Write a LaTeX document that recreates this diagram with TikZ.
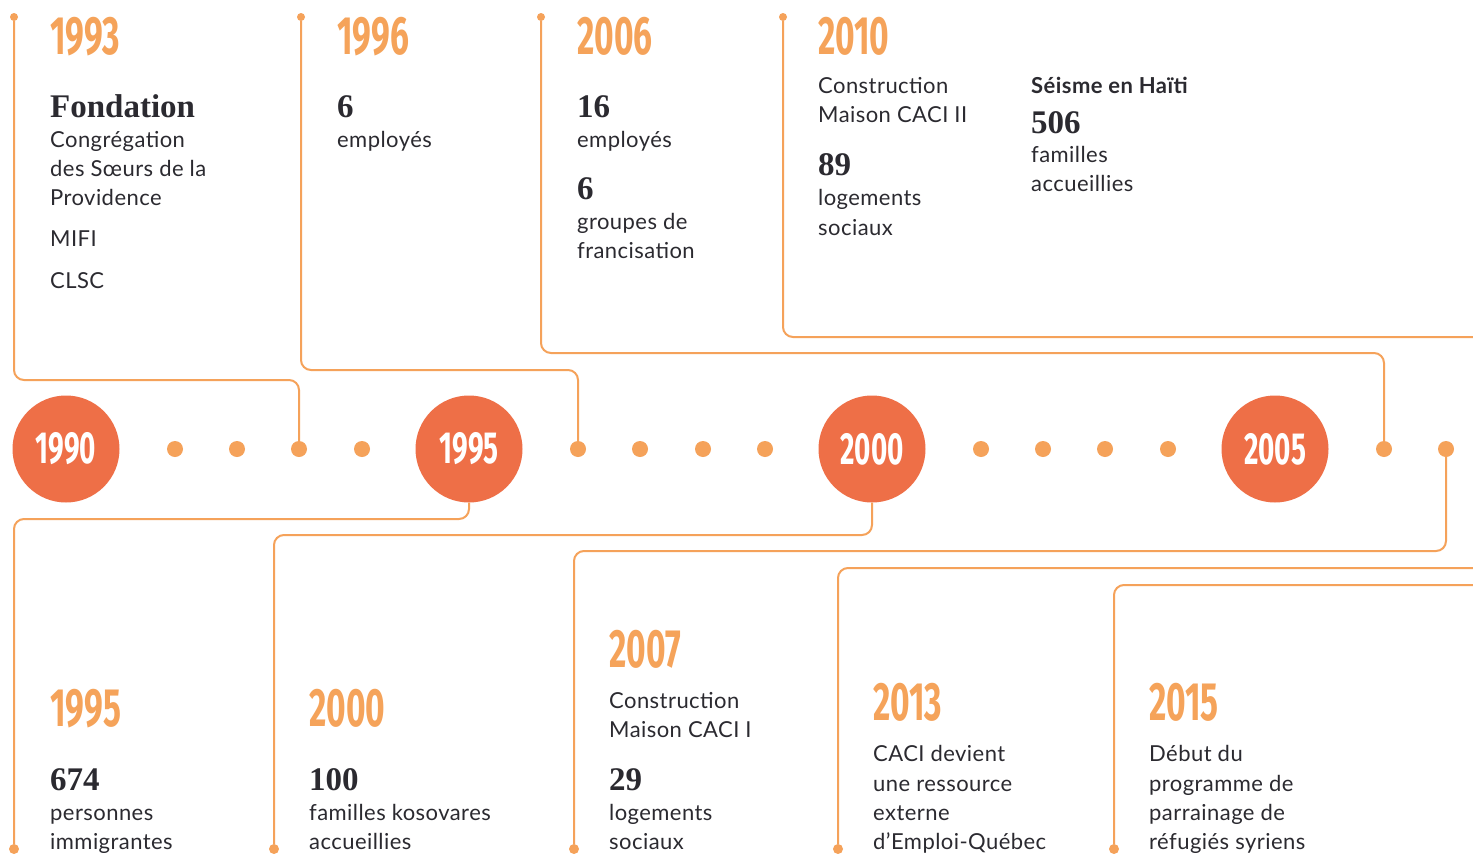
\documentclass[tikz,border=0pt]{standalone}
\usepackage{fontspec}
\setmainfont[LetterSpace=2]{Lato}
\newfontfamily\yearfont[FakeStretch=0.62]{Fira Sans}
\newfontfamily\numfont{Liberation Serif}
\definecolor{yearc}{HTML}{F5A35A}
\definecolor{circc}{HTML}{EE6F47}
\definecolor{linec}{HTML}{F5A25A}
\definecolor{inkc}{HTML}{2B2A30}
\begin{document}
\begin{tikzpicture}[x=1pt,y=-1pt,
  year/.style={font=\yearfont\bfseries\fontsize{54}{54}\selectfont, text=yearc, anchor=base west, inner sep=0pt},
  body/.style={font=\fontsize{22}{29}\selectfont, text=inkc, anchor=base west, inner sep=0pt},
  num/.style={font=\numfont\bfseries\fontsize{33}{33}\selectfont, text=inkc, anchor=base west, inner sep=0pt},
  head/.style={font=\bfseries\fontsize{22}{29}\selectfont, text=inkc, anchor=base west, inner sep=0pt},
  bigdot/.style={circle, fill=circc, minimum size=107pt, inner sep=0pt, text=white, font=\yearfont\bfseries\fontsize{45}{45}\selectfont},
  dotn/.style={circle, fill=linec, minimum size=16pt, inner sep=0pt},
  tickn/.style={circle, fill=linec, minimum size=8pt, inner sep=0pt},
  endn/.style={circle, fill=linec, minimum size=10pt, inner sep=0pt},
  conn/.style={draw=linec, line width=2pt, rounded corners=10pt}]
\useasboundingbox[fill=white] (0,0) rectangle (1473,854);

% big circles
\node[bigdot] (c1990) at (66,449) {1990};
\node[bigdot] (c1995) at (469,449) {1995};
\node[bigdot] (c2000) at (872,449) {2000};
\node[bigdot] (c2005) at (1275,449) {2005};
% small dots
\node[dotn] (d1) at (175,449) {};
\node[dotn] (d2) at (237,449) {};
\node[dotn] (d3) at (299,449) {};
\node[dotn] (d4) at (362,449) {};
\node[dotn] (d5) at (578,449) {};
\node[dotn] (d6) at (640,449) {};
\node[dotn] (d7) at (703,449) {};
\node[dotn] (d8) at (765,449) {};
\node[dotn] (d9) at (981,449) {};
\node[dotn] (d10) at (1043,449) {};
\node[dotn] (d11) at (1105,449) {};
\node[dotn] (d12) at (1168,449) {};
\node[dotn] (d13) at (1384,449) {};
\node[dotn] (d14) at (1446,449) {};
% top ticks
\node[tickn] (t1) at (14,17) {};
\node[tickn] (t2) at (301,17) {};
\node[tickn] (t3) at (541,17) {};
\node[tickn] (t4) at (783,17) {};
% bottom ends
\node[endn] (b1) at (14,849) {};
\node[endn] (b2) at (274,849) {};
\node[endn] (b3) at (574,849) {};
\node[endn] (b4) at (838,849) {};
\node[endn] (b5) at (1114,849) {};
\coordinate (e1) at (1490,337);
\coordinate (e2) at (1490,568);
\coordinate (e3) at (1490,585);

% connectors
\draw[conn] (t1) -- (14,380) -- (299,380) -- (d3);
\draw[conn] (t2) -- (301,370) -- (578,370) -- (d5);
\draw[conn] (t3) -- (541,353) -- (1384,353) -- (d13);
\draw[conn] (t4) -- (783,337) -- (e1);
\draw[conn] (c1995) -- (469,519) -- (14,519) -- (b1);
\draw[conn] (c2000) -- (872,535) -- (274,535) -- (b2);
\draw[conn] (d14) -- (1446,551) -- (574,551) -- (b3);
\draw[conn] (e2) -- (838,568) -- (b4);
\draw[conn] (e3) -- (1114,585) -- (b5);

% top texts
\node[year] (y1993) at (50,54) {1993};
\node[num] (n1993) at (50,117) {Fondation};
\node[body] (l1a) at (50,147) {Congrégation};
\node[body] (l1b) at (50,176) {des Sœurs de la};
\node[body] (l1c) at (50,205) {Providence};
\node[body] (l1d) at (50,246) {MIFI};
\node[body] (l1e) at (50,288) {CLSC};

\node[year] (y1996) at (337,54) {1996};
\node[num] (n1996) at (337,117) {6};
\node[body] (l2a) at (337,147) {employés};

\node[year] (y2006) at (577,54) {2006};
\node[num] (n2006a) at (577,117) {16};
\node[body] (l3a) at (577,147) {employés};
\node[num] (n2006b) at (577,199) {6};
\node[body] (l3b) at (577,229) {groupes de};
\node[body] (l3c) at (577,258) {francisation};

\node[year] (y2010) at (818,54) {2010};
\node[body] (l4a) at (818,93) {Construction};
\node[body] (l4b) at (818,122) {Maison CACI II};
\node[num] (n2010a) at (818,175) {89};
\node[body] (l4c) at (818,205) {logements};
\node[body] (l4d) at (818,235) {sociaux};
\node[head] (h2010) at (1031,93) {Séisme en Haïti};
\node[num] (n2010b) at (1031,133) {506};
\node[body] (l4e) at (1031,162) {familles};
\node[body] (l4f) at (1031,191) {accueillies};

% bottom texts
\node[year] (y1995) at (50,726) {1995};
\node[num] (n1995) at (50,790) {674};
\node[body] (l5a) at (50,820) {personnes};
\node[body] (l5b) at (50,849) {immigrantes};

\node[year] (y2000) at (309,726) {2000};
\node[num] (n2000) at (309,790) {100};
\node[body] (l6a) at (309,820) {familles kosovares};
\node[body] (l6b) at (309,849) {accueillies};

\node[year] (y2007) at (609,667) {2007};
\node[body] (l7a) at (609,708) {Construction};
\node[body] (l7b) at (609,737) {Maison CACI I};
\node[num] (n2007) at (609,790) {29};
\node[body] (l7c) at (609,820) {logements};
\node[body] (l7d) at (609,849) {sociaux};

\node[year] (y2013) at (873,720) {2013};
\node[body] (l8a) at (873,761) {CACI devient};
\node[body] (l8b) at (873,791) {une ressource};
\node[body] (l8c) at (873,820) {externe};
\node[body] (l8d) at (873,849) {d’Emploi-Québec};

\node[year] (y2015) at (1149,720) {2015};
\node[body] (l9a) at (1149,761) {Début du};
\node[body] (l9b) at (1149,791) {programme de};
\node[body] (l9c) at (1149,820) {parrainage de};
\node[body] (l9d) at (1149,849) {réfugiés syriens};
\end{tikzpicture}
\end{document}
